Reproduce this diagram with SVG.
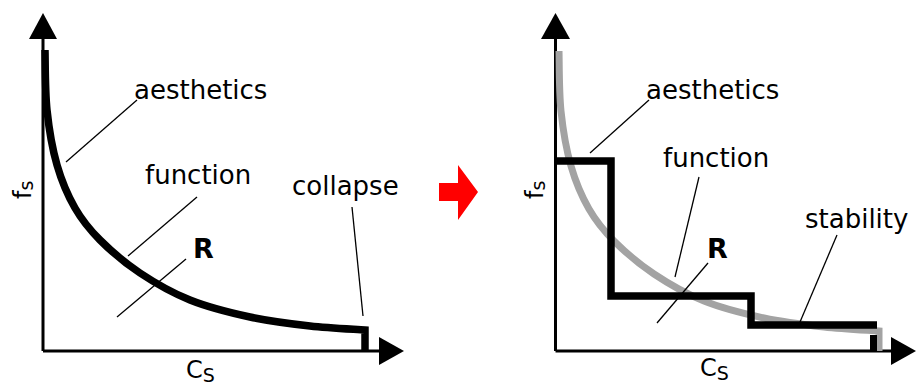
<svg xmlns="http://www.w3.org/2000/svg" width="917" height="385" viewBox="0 0 917 385">
<style>
text{font-family:"DejaVu Sans","Verdana",sans-serif;fill:#000}
.lbl{font-size:26px}
.bold{font-size:27px;font-weight:bold}
.sym{font-size:24px}
.sub{font-size:19px}
.axis{stroke:#000;stroke-width:3;fill:none}
.lead{stroke:#000;stroke-width:1.3;fill:none}
.thick{stroke:#000;stroke-width:7.5;fill:none;stroke-linejoin:miter}
.gray{stroke:#a3a3a3;stroke-width:7;fill:none}
</style>
<defs>
<path id="curve" d="M45,50 C45.3,60 45,90.8 47,110 C49,129.2 52.3,148.7 57,165 C61.7,181.3 67.8,195.5 75,208 C82.2,220.5 89.2,229.2 100,240 C110.8,250.8 125,263 140,273 C155,283 171.7,292.7 190,300 C208.3,307.3 230,312.7 250,317 C270,321.3 290.8,323.8 310,326 C329.2,328.2 355.8,329.3 365,330 L365,350"/>
</defs>
<g id="left-panel">
<g id="left-axes">
<line class="axis" x1="43" y1="36" x2="43" y2="351"/>
<line class="axis" x1="43" y1="351" x2="381" y2="351"/>
<polygon points="43,13 29,39 57,39"/>
<polygon points="404,351 379,337 379,365"/>
</g>
<g id="left-curve">
<use href="#curve" class="thick"/>
</g>
<g id="left-labels">
<text class="lbl" x="134" y="99">aesthetics</text>
<text class="lbl" x="145" y="184">function</text>
<text class="lbl" x="292" y="195">collapse</text>
<text class="bold" x="193" y="258">R</text>
<text class="sym" transform="translate(31,199) rotate(-90)">f<tspan class="sub" dy="2">s</tspan></text>
<text class="sym" x="186" y="378">C<tspan class="sub" dy="4">S</tspan></text>
</g>
<g id="left-connectors">
<line class="lead" x1="137" y1="100" x2="66" y2="162"/>
<line class="lead" x1="197" y1="197" x2="128" y2="256"/>
<line class="lead" x1="186" y1="259" x2="117" y2="317"/>
<line class="lead" x1="352" y1="207" x2="363" y2="316"/>
</g>
</g>
<g id="red-arrow">
<polygon fill="#ff0000" points="439,183 458,183 458,165 478,192 458,220 458,201 439,201"/>
</g>
<g id="right-panel">
<g id="right-axes">
<line class="axis" x1="555.5" y1="36" x2="555.5" y2="351"/>
<line class="axis" x1="555.5" y1="351" x2="893" y2="351"/>
<polygon points="555.5,13 541,39 570,39"/>
<polygon points="916,351 891,337 891,365"/>
</g>
<g id="right-curves">
<use href="#curve" class="gray" transform="translate(514,1)"/>
<path class="thick" d="M555,161 H611 V296 H751 V325 H877"/>
<rect x="870" y="335" width="7" height="16"/>
</g>
<g id="right-labels">
<text class="lbl" x="646" y="99">aesthetics</text>
<text class="lbl" x="663" y="167">function</text>
<text class="lbl" x="805" y="228">stability</text>
<text class="bold" x="707" y="258">R</text>
<text class="sym" transform="translate(543,199) rotate(-90)">f<tspan class="sub" dy="2">s</tspan></text>
<text class="sym" x="700" y="376">C<tspan class="sub" dy="4">S</tspan></text>
</g>
<g id="right-connectors">
<line class="lead" x1="649" y1="100" x2="590" y2="153"/>
<line class="lead" x1="699" y1="177" x2="675" y2="277"/>
<line class="lead" x1="708" y1="263" x2="657" y2="323"/>
<line class="lead" x1="837" y1="235" x2="800" y2="322"/>
</g>
</g>
</svg>
